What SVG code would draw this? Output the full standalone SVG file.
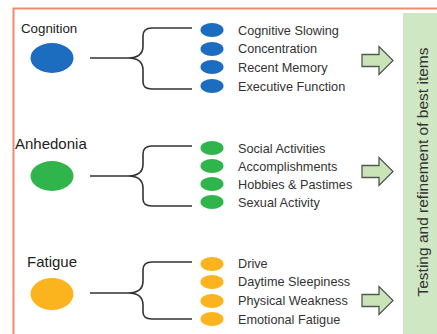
<svg xmlns="http://www.w3.org/2000/svg" width="437" height="334" viewBox="0 0 437 334">
<style>
.lbl{font-family:"Liberation Sans",Arial,sans-serif;font-size:15px;fill:#222}
.item{font-family:"Liberation Sans",Arial,sans-serif;font-size:12.7px;fill:#333}
.side{font-family:"Liberation Sans",Arial,sans-serif;font-size:15.5px;fill:#333}
.br{fill:none;stroke:#333;stroke-width:1.6}
.arr{fill:#c9e5b8;stroke:#555;stroke-width:1.3;stroke-linejoin:miter}
.b{fill:#1c6cc0}.g{fill:#2fb54b}.y{fill:#fbb41d}
</style>
<defs>
<path id="ar" d="M0,-6 L17,-6 L17,-14 L31,0 L17,14 L17,6 L0,6 Z"/>
</defs>
<rect width="437" height="334" fill="#fff"/>
<path d="M13.5,334 L13.5,8.5 L437,8.5" fill="none" stroke="#f08a6e" stroke-width="2"/>
<g id="side">
<rect x="403" y="13" width="34" height="321" fill="#cfe7c2"/>
<text class="side" transform="translate(428,172) rotate(-90)" text-anchor="middle">Testing and refinement of best items</text>
</g>
<g id="connectors">
<path class="br" d="M90,58 L128,58 Q143,58 143,46 L143,36 Q143,28 152,28 L192,28 M128,58 Q143,58 143,70 L143,82 Q143,89 152,89 L192,89"/>
<path class="br" d="M90,176 L128,176 Q143,176 143,164 L143,154 Q143,146 152,146 L192,146 M128,176 Q143,176 143,188 L143,199 Q143,206 152,206 L192,206"/>
<path class="br" d="M90,293 L128,293 Q143,293 143,281 L143,270 Q143,262 152,262 L192,262 M128,293 Q143,293 143,305 L143,312 Q143,319 152,319 L192,319"/>
<use href="#ar" class="arr" transform="translate(362,60.5)"/>
<use href="#ar" class="arr" transform="translate(362,171.5)"/>
<use href="#ar" class="arr" transform="translate(362,300.5)"/>
</g>
<g id="cognition">
<text class="lbl" x="21" y="33" style="font-size:13.3px">Cognition</text>
<ellipse class="b" cx="52" cy="58" rx="21.5" ry="15"/>
</g>
<g id="cog-items">
<ellipse class="b" cx="212" cy="30" rx="11.5" ry="7"/>
<ellipse class="b" cx="212" cy="49" rx="11.5" ry="7"/>
<ellipse class="b" cx="212" cy="67" rx="11.5" ry="7"/>
<ellipse class="b" cx="212" cy="86" rx="11.5" ry="7"/>
<text class="item" x="238" y="35">Cognitive Slowing</text>
<text class="item" x="238" y="53">Concentration</text>
<text class="item" x="238" y="72">Recent Memory</text>
<text class="item" x="238" y="91">Executive Function</text>
</g>
<g id="anhedonia">
<text class="lbl" x="15" y="149">Anhedonia</text>
<ellipse class="g" cx="52" cy="176" rx="21.5" ry="15"/>
</g>
<g id="anh-items">
<ellipse class="g" cx="212" cy="148" rx="11.5" ry="7"/>
<ellipse class="g" cx="212" cy="166" rx="11.5" ry="7"/>
<ellipse class="g" cx="212" cy="184" rx="11.5" ry="7"/>
<ellipse class="g" cx="212" cy="202" rx="11.5" ry="7"/>
<text class="item" x="238" y="153">Social Activities</text>
<text class="item" x="238" y="171">Accomplishments</text>
<text class="item" x="238" y="189">Hobbies &amp; Pastimes</text>
<text class="item" x="238" y="207">Sexual Activity</text>
</g>
<g id="fatigue">
<text class="lbl" x="27" y="267">Fatigue</text>
<ellipse class="y" cx="52" cy="294" rx="21.5" ry="16"/>
</g>
<g id="fat-items">
<ellipse class="y" cx="212" cy="264" rx="11.5" ry="7"/>
<ellipse class="y" cx="212" cy="282" rx="11.5" ry="7"/>
<ellipse class="y" cx="212" cy="301" rx="11.5" ry="7"/>
<ellipse class="y" cx="212" cy="319" rx="11.5" ry="7"/>
<text class="item" x="238" y="268">Drive</text>
<text class="item" x="238" y="286">Daytime Sleepiness</text>
<text class="item" x="238" y="305">Physical Weakness</text>
<text class="item" x="238" y="324">Emotional Fatigue</text>
</g>
</svg>
